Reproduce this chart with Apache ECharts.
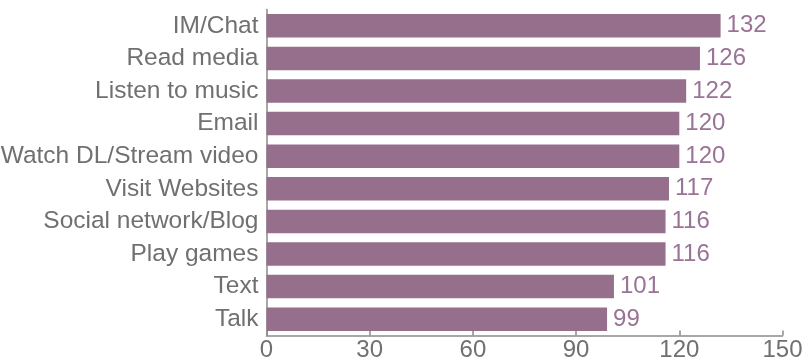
<!DOCTYPE html>
<html>
<head>
<meta charset="utf-8">
<script src="https://cdn.jsdelivr.net/npm/echarts@6/dist/echarts.min.js"></script>
<style>html,body{margin:0;padding:0;background:#fff}#c{width:802px;height:360px}</style>
</head>
<body>
<div id="c"></div>
<script>
const categories = ["IM/Chat","Read media","Listen to music","Email","Watch DL/Stream video","Visit Websites","Social network/Blog","Play games","Text","Talk"];
const values = [132,126,122,120,120,117,116,116,101,99];
const xTicks = [0,30,60,90,120,150];

const chart = echarts.init(document.getElementById('c'), null, {renderer:'canvas'});
const font = '"Liberation Sans", Arial, sans-serif';
const numFont = '"Liberation Sans Narrow", "Liberation Sans", sans-serif';
chart.setOption({
  animation:false,
  grid:{left:266.5,right:19.5,top:9.5,bottom:24.5,containLabel:false,outerBoundsMode:'none'},
  xAxis:{
    type:'value', min:xTicks[0], max:xTicks[xTicks.length-1], interval:30,
    axisLine:{show:true,lineStyle:{color:'#8a8a8a',width:1.5}},
    axisTick:{show:true,inside:true,length:5,lineStyle:{color:'#8a8a8a',width:1.5}},
    axisLabel:{color:'#707070',fontSize:24,fontFamily:numFont,margin:3},
    splitLine:{show:false}
  },
  yAxis:{
    type:'category', data:categories, inverse:true,
    axisLine:{show:true,lineStyle:{color:'#8a8a8a',width:1.5}},
    axisTick:{show:false},
    axisLabel:{color:'#707070',fontSize:24.5,fontFamily:font,margin:8,interval:0,hideOverlap:false}
  },
  series:[{
    type:'bar', data:values, barCategoryGap:'28%',
    itemStyle:{color:'#956f8b'},
    label:{show:true,position:'right',distance:6,color:'#9a7396',fontSize:24,fontFamily:numFont}
  }]
});
</script>
</body>
</html>
